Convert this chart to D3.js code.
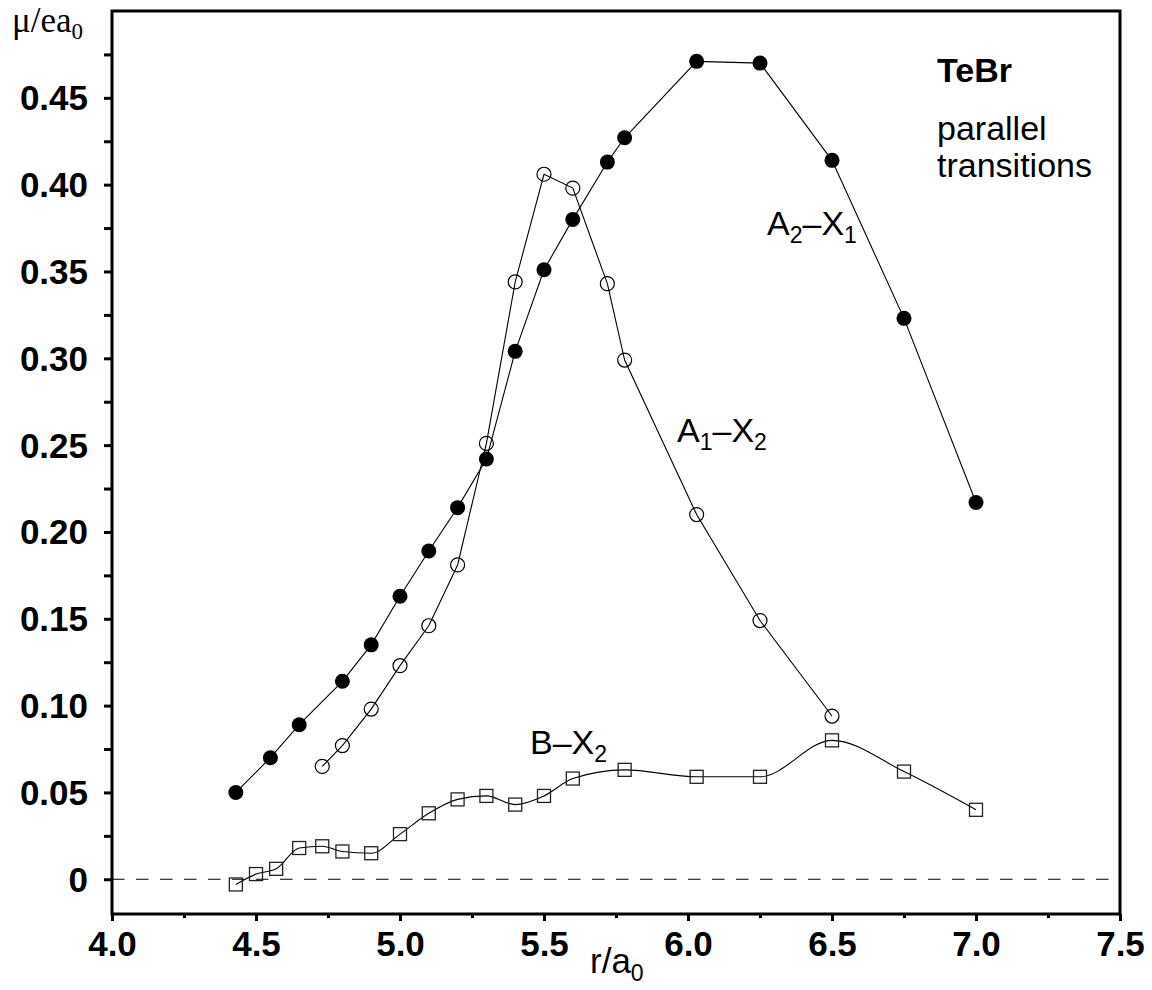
<!DOCTYPE html>
<html>
<head>
<meta charset="utf-8">
<script src="https://cdn.jsdelivr.net/npm/d3@7"></script>
<style>
  html, body { margin: 0; padding: 0; background: #fff; }
  svg { display: block; }
  text { font-family: "Liberation Sans", Arial, Helvetica, sans-serif; fill: #000; }
</style>
</head>
<body>
<script>
// Dipole moment of TeBr parallel transitions vs internuclear distance
const rA2X1 = [4.43, 4.55, 4.65, 4.80, 4.90, 5.00, 5.10, 5.20, 5.30, 5.40, 5.50, 5.60, 5.72, 5.78, 6.03, 6.25, 6.50, 6.75, 7.00];
const muA2X1 = [0.050, 0.070, 0.089, 0.114, 0.135, 0.163, 0.189, 0.214, 0.242, 0.304, 0.351, 0.380, 0.413, 0.427, 0.471, 0.470, 0.414, 0.323, 0.217];

const rA1X2 = [4.73, 4.80, 4.90, 5.00, 5.10, 5.20, 5.30, 5.40, 5.50, 5.60, 5.72, 5.78, 6.03, 6.25, 6.50];
const muA1X2 = [0.065, 0.077, 0.098, 0.123, 0.146, 0.181, 0.251, 0.344, 0.406, 0.398, 0.343, 0.299, 0.210, 0.149, 0.094];

const rBX2 = [4.43, 4.50, 4.57, 4.65, 4.73, 4.80, 4.90, 5.00, 5.10, 5.20, 5.30, 5.40, 5.50, 5.60, 5.78, 6.03, 6.25, 6.50, 6.75, 7.00];
const muBX2 = [-0.003, 0.003, 0.006, 0.018, 0.019, 0.016, 0.015, 0.026, 0.038, 0.046, 0.048, 0.043, 0.048, 0.058, 0.063, 0.059, 0.059, 0.080, 0.062, 0.040];

const xTicks = [4.0, 4.5, 5.0, 5.5, 6.0, 6.5, 7.0, 7.5];
const xTickLabels = ["4.0", "4.5", "5.0", "5.5", "6.0", "6.5", "7.0", "7.5"];
const xMinorTicks = [4.25, 4.75, 5.25, 5.75, 6.25, 6.75, 7.25];
const yTicks = [0, 0.05, 0.10, 0.15, 0.20, 0.25, 0.30, 0.35, 0.40, 0.45];
const yTickLabels = ["0", "0.05", "0.10", "0.15", "0.20", "0.25", "0.30", "0.35", "0.40", "0.45"];
const yMinorTicks = [0.025, 0.075, 0.125, 0.175, 0.225, 0.275, 0.325, 0.375, 0.425, 0.475];

const W = 1152, H = 990;
const plot = { left: 112, right: 1120, top: 11, bottom: 914 };

const x = d3.scaleLinear().domain([4.0, 7.5]).range([plot.left, plot.right]);
const y = d3.scaleLinear().domain([-0.02, 0.5]).range([plot.bottom, plot.top]);

const svg = d3.select("body").append("svg").attr("width", W).attr("height", H);

// zero reference line
svg.append("line")
  .attr("x1", plot.left).attr("x2", 1110)
  .attr("y1", y(0)).attr("y2", y(0))
  .attr("stroke", "#000").attr("stroke-width", 1.2)
  .attr("stroke-dasharray", "12.5,11.5");

// axes
const xAxis = d3.axisBottom(x).tickValues(xTicks)
  .tickFormat((d, i) => xTickLabels[i]).tickSize(7).tickPadding(10);
const yAxis = d3.axisLeft(y).tickValues(yTicks)
  .tickFormat((d, i) => yTickLabels[i]).tickSize(8).tickPadding(16);
const xMinor = d3.axisBottom(x).tickValues(xMinorTicks).tickFormat("").tickSize(4);
const yMinor = d3.axisLeft(y).tickValues(yMinorTicks).tickFormat("").tickSize(8);

function styleAxis(g) {
  g.select(".domain").remove();
  g.selectAll(".tick line").attr("stroke", "#000").attr("stroke-width", 3);
  g.selectAll(".tick text")
    .style("font-size", "35px").style("font-weight", "bold").attr("fill", "#000");
}

svg.append("g").attr("transform", `translate(0,${plot.bottom})`).call(xAxis).call(styleAxis);
svg.append("g").attr("transform", `translate(0,${plot.bottom})`).call(xMinor).call(styleAxis);
svg.append("g").attr("transform", `translate(${plot.left},0)`).call(yAxis).call(styleAxis)
  .selectAll(".tick text").attr("dy", "0.34em");
svg.append("g").attr("transform", `translate(${plot.left},0)`).call(yMinor).call(styleAxis);

// frame
svg.append("rect")
  .attr("x", plot.left).attr("y", plot.top)
  .attr("width", plot.right - plot.left).attr("height", plot.bottom - plot.top)
  .attr("fill", "none").attr("stroke", "#000").attr("stroke-width", 3);

// series
const straight = d3.line().x(d => x(d[0])).y(d => y(d[1]));
const smooth = d3.line().x(d => x(d[0])).y(d => y(d[1])).curve(d3.curveMonotoneX);
const sA2X1 = d3.zip(rA2X1, muA2X1);
const sA1X2 = d3.zip(rA1X2, muA1X2);
const sBX2 = d3.zip(rBX2, muBX2);

[[sA2X1, straight], [sA1X2, straight], [sBX2, smooth]].forEach(([s, gen]) => {
  svg.append("path").datum(s).attr("d", gen)
    .attr("fill", "none").attr("stroke", "#000").attr("stroke-width", 1.1);
});

svg.append("g").selectAll("circle").data(sA2X1).join("circle")
  .attr("cx", d => x(d[0])).attr("cy", d => y(d[1])).attr("r", 7.5)
  .attr("fill", "#000");

svg.append("g").selectAll("circle").data(sA1X2).join("circle")
  .attr("cx", d => x(d[0])).attr("cy", d => y(d[1])).attr("r", 7)
  .attr("fill", "none").attr("stroke", "#000").attr("stroke-width", 1.2);

svg.append("g").selectAll("rect").data(sBX2).join("rect")
  .attr("x", d => x(d[0]) - 6.5).attr("y", d => y(d[1]) - 6.5)
  .attr("width", 13).attr("height", 13)
  .attr("fill", "none").attr("stroke", "#222").attr("stroke-width", 1.3);

// axis titles
const yTitle = svg.append("text").attr("x", 12).attr("y", 32)
  .style("font-family", "'Liberation Serif', 'Times New Roman', serif").style("font-size", "35px");
yTitle.append("tspan").text("μ/ea");
yTitle.append("tspan").attr("dy", 7).style("font-size", "23px").text("0");

const xTitle = svg.append("text").attr("x", 590).attr("y", 973).style("font-size", "35px");
xTitle.append("tspan").text("r/a");
xTitle.append("tspan").attr("dy", 8).style("font-size", "23px").text("0");

// annotations
svg.append("text").attr("x", 937).attr("y", 82)
  .style("font-size", "34px").style("font-weight", "bold").text("TeBr");
svg.append("text").attr("x", 937).attr("y", 140).style("font-size", "34px").text("parallel");
svg.append("text").attr("x", 937).attr("y", 177).style("font-size", "34px").text("transitions");

// series labels: [text, isSubscript]
function seriesLabel(px, py, parts) {
  const t = svg.append("text").attr("x", px).attr("y", py).style("font-size", "34px");
  let lowered = false;
  parts.forEach(([s, sub]) => {
    const dy = sub ? (lowered ? 0 : 8) : (lowered ? -8 : 0);
    lowered = !!sub;
    t.append("tspan").attr("dy", dy).style("font-size", sub ? "23px" : "34px").text(s);
  });
}
seriesLabel(767, 235, [["A"], ["2", true], ["–X"], ["1", true]]);
seriesLabel(677, 442, [["A"], ["1", true], ["–X"], ["2", true]]);
seriesLabel(530, 754, [["B–X"], ["2", true]]);
</script>
</body>
</html>
